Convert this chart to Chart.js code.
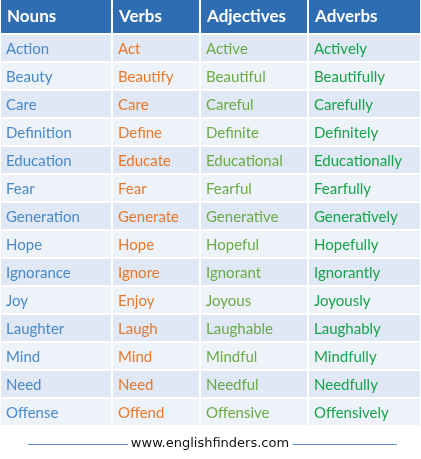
<!DOCTYPE html>
<html><head><meta charset="utf-8">
<script src="https://cdn.jsdelivr.net/npm/chart.js@4/dist/chart.umd.min.js"></script>
<style>html,body{margin:0;padding:0;background:#fff}#w{width:421px;height:459px}</style>
</head><body><div id="w"><canvas id="c"></canvas></div>
<script>
const headers = ["Nouns","Verbs","Adjectives","Adverbs"];
const nouns = ["Action","Beauty","Care","Definition","Education","Fear","Generation","Hope","Ignorance","Joy","Laughter","Mind","Need","Offense"];
const verbs = ["Act","Beautify","Care","Define","Educate","Fear","Generate","Hope","Ignore","Enjoy","Laugh","Mind","Need","Offend"];
const adjectives = ["Active","Beautiful","Careful","Definite","Educational","Fearful","Generative","Hopeful","Ignorant","Joyous","Laughable","Mindful","Needful","Offensive"];
const adverbs = ["Actively","Beautifully","Carefully","Definitely","Educationally","Fearfully","Generatively","Hopefully","Ignorantly","Joyously","Laughably","Mindfully","Needfully","Offensively"];
const footer = "www.englishfinders.com";
const cols = [nouns, verbs, adjectives, adverbs];
const colEdges = [0,112,200,308,421];
const textColors = ["#4a89c8","#e8792c","#6aab45","#17a34a"];

const tablePlugin = {
  id:'table',
  beforeDraw(chart){
    const ctx = chart.ctx, W = chart.width;
    const headH = 34, rowH = 28;
    ctx.save();
    ctx.fillStyle = '#fff'; ctx.fillRect(0,0,W,chart.height);
    // header
    for (let c=0;c<4;c++){
      const x0=colEdges[c], x1=colEdges[c+1];
      ctx.fillStyle='#2f6db3';
      ctx.fillRect(x0+1,0,x1-x0-2,headH-1);
      ctx.fillStyle='#fff';
      ctx.font='bold 17px Lato';
      ctx.textBaseline='middle';
      ctx.fillText(headers[c], x0+7, headH/2);
    }
    for (let r=0;r<nouns.length;r++){
      const y0 = headH + r*rowH;
      for (let c=0;c<4;c++){
        const x0=colEdges[c], x1=colEdges[c+1];
        ctx.fillStyle = r%2===0 ? '#dfe8f4' : '#eef3fa';
        ctx.fillRect(x0+1,y0+1,x1-x0-2,rowH-2);
        ctx.fillStyle=textColors[c];
        ctx.font='15px Lato';
        ctx.textBaseline='middle';
        ctx.fillText(cols[c][r], x0+6, y0+rowH/2+1);
      }
    }
    // footer
    const fy = 444;
    ctx.strokeStyle='#5b8fd0'; ctx.lineWidth=1;
    ctx.beginPath(); ctx.moveTo(28,fy+0.5); ctx.lineTo(128,fy+0.5); ctx.moveTo(293,fy+0.5); ctx.lineTo(397,fy+0.5); ctx.stroke();
    ctx.fillStyle='#111'; ctx.font='13px "DejaVu Sans"'; ctx.textAlign='center';
    ctx.fillText(footer, 210, fy);
    ctx.restore();
  }
};

new Chart(document.getElementById('c'), {
  type:'bar',
  data:{labels:headers, datasets:[{data:[0,0,0,0]}]},
  options:{responsive:true, maintainAspectRatio:false, animation:false,
    layout:{padding:0},
    plugins:{legend:{display:false}, tooltip:{enabled:false}},
    scales:{x:{display:false}, y:{display:false}}},
  plugins:[tablePlugin]
});
</script></body></html>
